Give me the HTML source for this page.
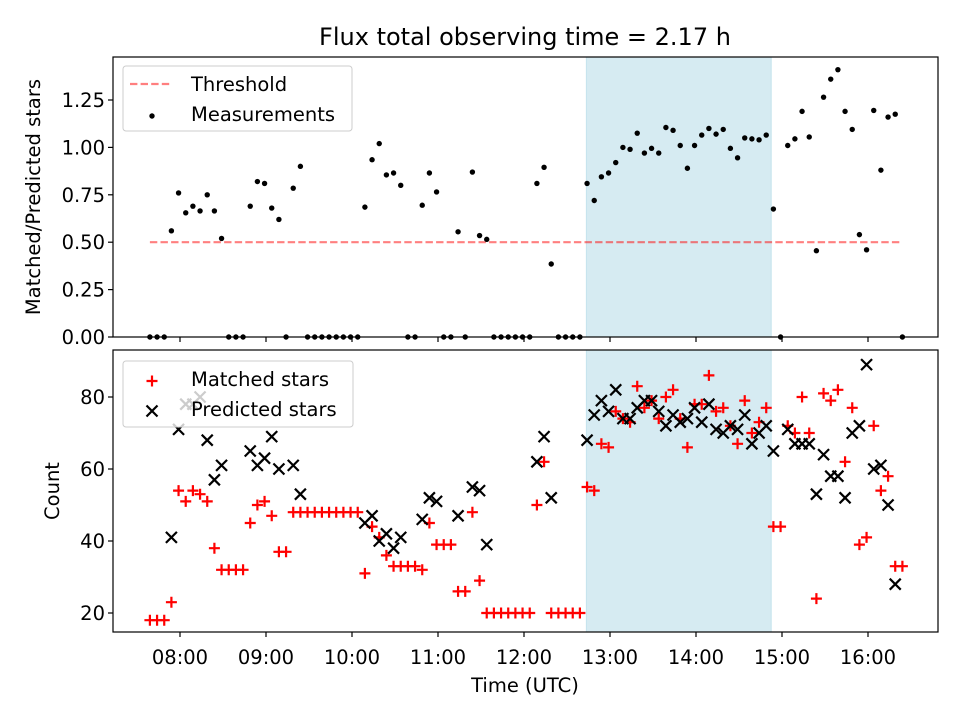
<!DOCTYPE html>
<html><head><meta charset="utf-8">
<style>
html,body{margin:0;padding:0;background:#fff;}
svg{display:block;font-family:"DejaVu Sans","Liberation Sans",sans-serif;}
</style></head>
<body>
<svg id="chart" width="960" height="720" viewBox="0 0 960 720" xmlns="http://www.w3.org/2000/svg">
<rect width="960" height="720" fill="#fff"/>
<text x="525" y="45" font-size="24" text-anchor="middle" fill="#000">Flux total observing time = 2.17 h</text>
<g id="topPanel"></g>
<g id="botPanel"></g>
<text transform="translate(40,197) rotate(-90)" font-size="19.5" text-anchor="middle">Matched/Predicted stars</text>
<text transform="translate(59,491) rotate(-90)" font-size="19.5" text-anchor="middle">Count</text>
<text x="525" y="692" font-size="19.5" text-anchor="middle">Time (UTC)</text>
</svg>
<script>
// time in minutes since midnight
const times = [459,464,469,474,479,484,489,494,499,504,509,514,519,524,529,534,539,544,549,554,559,564,569,574,579,584,589,594,599,604,609,614,619,624,629,634,639,644,649,654,659,664,669,674,679,684,689,694,699,704,709,714,719,724,729,734,739,744,749,754,759,764,769,774,779,784,789,794,799,804,809,814,819,824,829,834,839,844,849,854,859,864,869,874,879,884,889,894,899,904,909,914,919,924,929,934,939,944,949,954,959,964,969,974,979,984];
const ratio = [0,0,0,0.56,0.76,0.655,0.69,0.665,0.75,0.665,0.52,0,0,0,0.69,0.82,0.81,0.68,0.62,0,0.785,0.90,0,0,0,0,0,0,0,0,0.685,0.935,1.02,0.855,0.865,0.80,0,0,0.695,0.865,0.765,0,0,0.555,0,0.87,0.535,0.515,0,0,0,0,0,0,0.81,0.895,0.385,0,0,0,0,0.81,0.72,0.845,0.865,0.92,1.0,0.99,1.075,0.97,0.995,0.97,1.105,1.09,1.01,0.89,1.01,1.065,1.10,1.07,1.095,0.995,0.945,1.05,1.045,1.04,1.065,0.675,0,1.01,1.045,1.19,1.055,0.455,1.265,1.36,1.41,1.19,1.095,0.54,0.46,1.195,0.88,1.16,1.175,0];
const matched = [18,18,18,23,54,51,54,53,51,38,32,32,32,32,45,50,51,47,37,37,48,48,48,48,48,48,48,48,48,48,31,44,41,36,33,33,33,33,32,45,39,39,39,26,26,48,29,20,20,20,20,20,20,20,50,62,20,20,20,20,20,55,54,67,66,76,74,73,83,77,79,74,80,82,74,66,78,78,86,76,77,72,67,79,70,73,77,44,44,72,70,80,70,24,81,79,82,62,77,39,41,72,54,58,33,33];
const predicted = [null,null,null,41,71,78,78,80,68,57,61,null,null,null,65,61,63,69,60,null,61,53,null,null,null,null,null,null,null,null,45,47,40,42,38,41,null,null,46,52,51,null,null,47,null,55,54,39,null,null,null,null,null,null,62,69,52,null,null,null,null,68,75,79,76,82,74,74,77,79,79,76,72,75,73,74,77,73,78,71,70,72,71,75,67,70,72,65,null,71,67,67,67,53,64,58,58,52,70,72,89,60,61,50,28,null];
const threshold = [0.5, 0.5];
const spanMinutes = [763.5, 892.5];
const ratioTicks = [0, 0.25, 0.5, 0.75, 1.0, 1.25];
const countTicks = [20, 40, 60, 80];
const timeTicks = [480, 540, 600, 660, 720, 780, 840, 900, 960];
const timeLabels = ["08:00","09:00","10:00","11:00","12:00","13:00","14:00","15:00","16:00"];

const NS = "http://www.w3.org/2000/svg";
const L = 113, R = 938;
const FS = 19.5;
const X = m => 180 + (m / 60 - 8) * 86;
const Yt = v => 337 - v * 189.6;
const Yb = v => 613 - (v - 20) * 3.6;
function mk(tag, attrs, parent) {
  const e = document.createElementNS(NS, tag);
  for (const k in attrs) e.setAttribute(k, attrs[k]);
  parent.appendChild(e);
  return e;
}
const topG = document.getElementById('topPanel');
const botG = document.getElementById('botPanel');

function panel(g, y0, y1, nm) {
  const s = mk('rect', {x: X(spanMinutes[0]), y: y0, width: X(spanMinutes[1]) - X(spanMinutes[0]), height: y1 - y0, fill: '#add8e6', 'fill-opacity': 0.5, stroke: '#add8e6', 'stroke-opacity': 0.6}, g);
  
  
}
panel(topG, 57, 337, 'top');
panel(botG, 350, 632, 'bottom');

const th = mk('line', {x1: X(times[0]), x2: X(times[times.length - 1]), y1: Yt(threshold[0]), y2: Yt(threshold[1]), stroke: '#ff0000', 'stroke-opacity': 0.5, 'stroke-width': 2.2, 'stroke-dasharray': '7.4,3.2'}, topG);



times.forEach((t, i) => {
  const c = mk('circle', {cx: X(t), cy: Yt(ratio[i]), r: 2.7, fill: '#000'}, topG);
  
  
});

function plus(g, cx, cy) {
  return mk('path', {d: `M${cx - 5.5},${cy}H${cx + 5.5}M${cx},${cy - 5.5}V${cy + 5.5}`, stroke: '#ff0000', 'stroke-width': 2.2, fill: 'none'}, g);
}
function cross(g, cx, cy) {
  return mk('path', {d: `M${cx - 5.5},${cy - 5.5}L${cx + 5.5},${cy + 5.5}M${cx - 5.5},${cy + 5.5}L${cx + 5.5},${cy - 5.5}`, stroke: '#000', 'stroke-width': 2.2, fill: 'none'}, g);
}
times.forEach((t, i) => {
  const p = plus(botG, X(t), Yb(matched[i]));
  
  
});
times.forEach((t, i) => {
  if (predicted[i] === null) return;
  const p = cross(botG, X(t), Yb(predicted[i]));
  
  
});

function frame(g, y0, y1, nm) {
  const f = mk('rect', {x: L, y: y0, width: R - L, height: y1 - y0, fill: 'none', stroke: '#000', 'stroke-width': 1.2}, g);
  
  
  timeTicks.forEach(m => {
    const tk = mk('line', {x1: X(m), x2: X(m), y1: y1, y2: y1 + 5, stroke: '#000', 'stroke-width': 1.2}, g);
    
    
  });
}
frame(topG, 57, 337, 'top');
frame(botG, 350, 632, 'bottom');
ratioTicks.forEach(v => {
  const tk = mk('line', {x1: L - 5, x2: L, y1: Yt(v), y2: Yt(v), stroke: '#000', 'stroke-width': 1.2}, topG);
  
  
  const tx = mk('text', {x: L - 8, y: Yt(v) + 7, 'font-size': FS, 'text-anchor': 'end'}, topG);
  tx.textContent = v.toFixed(2);
  
  
});
countTicks.forEach(v => {
  const tk = mk('line', {x1: L - 5, x2: L, y1: Yb(v), y2: Yb(v), stroke: '#000', 'stroke-width': 1.2}, botG);
  
  
  const tx = mk('text', {x: L - 8, y: Yb(v) + 7, 'font-size': FS, 'text-anchor': 'end'}, botG);
  tx.textContent = v;
  
  
});
timeTicks.forEach((m, i) => {
  const tx = mk('text', {x: X(m), y: 664, 'font-size': FS, 'text-anchor': 'middle'}, botG);
  tx.textContent = timeLabels[i];
  
  
});

const lg1 = mk('g', {}, topG);


mk('rect', {x: 123, y: 66, width: 229, height: 65, rx: 3, fill: '#fff', 'fill-opacity': 0.8, stroke: '#ccc'}, lg1);
mk('line', {x1: 130, x2: 172, y1: 84, y2: 84, stroke: '#ff0000', 'stroke-opacity': 0.5, 'stroke-width': 2.2, 'stroke-dasharray': '7.4,3.2'}, lg1);
const t1 = mk('text', {x: 191, y: 91, 'font-size': FS}, lg1); t1.textContent = 'Threshold';


mk('circle', {cx: 152, cy: 116, r: 2.7, fill: '#000'}, lg1);
const t2 = mk('text', {x: 191, y: 121, 'font-size': FS}, lg1); t2.textContent = 'Measurements';



const lg2 = mk('g', {}, botG);


mk('rect', {x: 123, y: 361, width: 230, height: 66, rx: 3, fill: '#fff', 'fill-opacity': 0.8, stroke: '#ccc'}, lg2);
plus(lg2, 152, 381);
const t3 = mk('text', {x: 191, y: 386, 'font-size': FS}, lg2); t3.textContent = 'Matched stars';


cross(lg2, 152, 411);
const t4 = mk('text', {x: 191, y: 416, 'font-size': FS}, lg2); t4.textContent = 'Predicted stars';


</script>
</body></html>
